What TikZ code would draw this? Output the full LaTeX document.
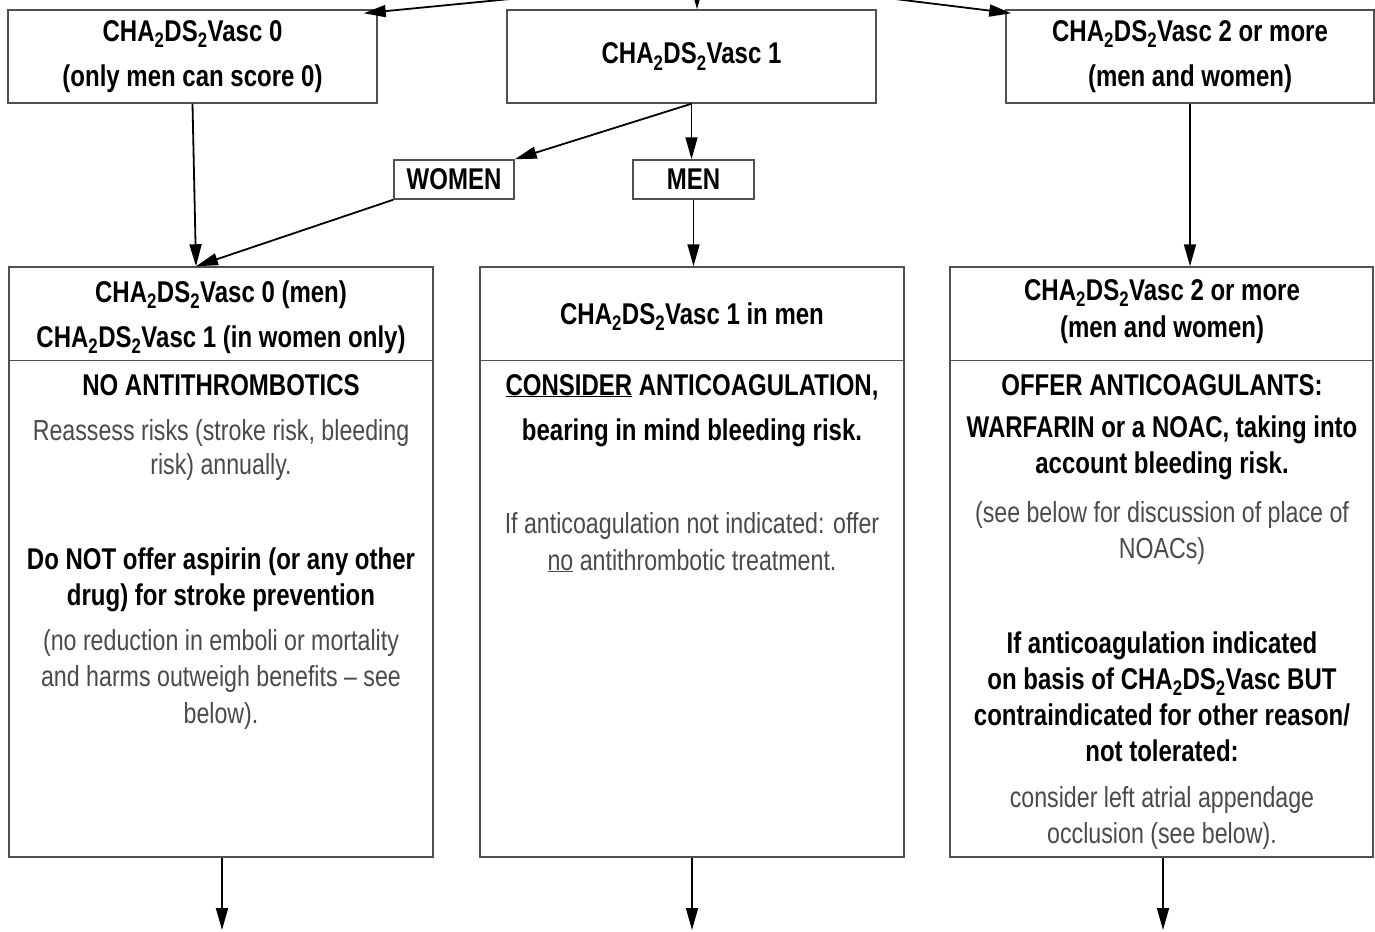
\documentclass[tikz,border=0pt]{standalone}
\usepackage{fontspec}
\setmainfont{Liberation Sans}[FakeStretch=0.8]
\usetikzlibrary{arrows.meta,calc}
\definecolor{boxline}{HTML}{505050}
\definecolor{lighttext}{HTML}{4A4A4A}
\newcommand{\chads}{CHA\textsubscript{2}DS\textsubscript{2}Vasc}
\begin{document}
\begin{tikzpicture}[x=1pt,y=-1pt,
  box/.style={draw=boxline, line width=1.5pt, inner sep=0pt},
  topbox/.style={box, minimum width=369pt, minimum height=93pt, align=center,
     font=\fontsize{30}{45}\selectfont\bfseries},
  tagbox/.style={box, minimum width=120pt, minimum height=39pt,
     font=\fontsize{30}{32}\selectfont\bfseries},
  bigbox/.style={box, minimum width=424pt, minimum height=590pt},
  hd/.style={font=\fontsize{30}{#1}\selectfont\bfseries, inner sep=0pt, align=center, anchor=base},
  hd/.default=36,
  lt/.style={font=\fontsize{29}{#1}\selectfont, text=lighttext, inner sep=0pt, align=center, anchor=base},
  lt/.default=36,
  arr/.style={line width=1.8pt, -{Triangle[length=22pt,width=12pt]}},
]
\useasboundingbox (0,0) rectangle (1375,931);

% top row
\node[topbox] (tl) at (192.5,56.5) {\chads\ 0\\(only men can score 0)};
\node[topbox] (tm) at (691.5,56.5) {\chads\ 1};
\node[topbox, minimum width=368pt] (tr) at (1190,56.5) {\chads\ 2 or more\\(men and women)};

% sex tags
\node[tagbox] (women) at (454,179.5) {WOMEN};
\node[tagbox, minimum width=121pt] (men) at (693.5,179.5) {MEN};

% big boxes
\node[bigbox] (bl) at (221,562) {};
\node[bigbox] (bm) at (692,562) {};
\node[bigbox, minimum width=423pt] (br) at (1161.5,562) {};
\draw[box] ($(bl.north west)+(0,94)$) -- ($(bl.north east)+(0,94)$);
\draw[box] ($(bm.north west)+(0,94)$) -- ($(bm.north east)+(0,94)$);
\draw[box] ($(br.north west)+(0,94)$) -- ($(br.north east)+(0,94)$);

% left box text (anchor = baseline of last line)
\node[hd=45] (blh) at (221,347) {\chads\ 0 (men)\\\chads\ 1 (in women only)};
\node[hd] (bl1) at (221,395) {NO ANTITHROMBOTICS};
\node[lt=34] (bl2) at (221,474) {Reassess risks (stroke risk, bleeding\\risk) annually.};
\node[hd] (bl3) at (221,605) {Do NOT offer aspirin (or any other\\drug) for stroke prevention};
\node[lt=36.5] (bl4) at (221,723) {(no reduction in emboli or mortality\\and harms outweigh benefits – see\\below).};

% middle box text
\node[hd] (bmh) at (692,324) {\chads\ 1 in men};
\node[hd=45] (bm1) at (692,440) {\underline{CONSIDER} ANTICOAGULATION,\\bearing in mind bleeding risk.};
\node[lt=37] (bm2) at (692,570) {If anticoagulation not indicated: offer\\\underline{no} antithrombotic treatment.};

% right box text
\node[hd=37] (brh) at (1162,337) {\chads\ 2 or more\\(men and women)};
\node[hd] (br1) at (1162,395) {OFFER ANTICOAGULANTS:};
\node[hd] (br2) at (1162,473) {WARFARIN or a NOAC, taking into\\account bleeding risk.};
\node[lt] (br3) at (1162,558) {(see below for discussion of place of\\NOACs)};
\node[hd] (br4) at (1162,761) {If anticoagulation indicated\\on basis of \chads\ BUT\\contraindicated for other reason/\\not tolerated:};
\node[lt] (br5) at (1162,843) {consider left atrial appendage\\occlusion (see below).};

% incoming arrows from above
\coordinate (inL) at (510,-1);
\coordinate (inM) at (697,-12);
\coordinate (inR) at (895,-1);
\draw[arr] (inL) -- ($(tl.north east)+(-14,4)$);
\draw[arr] (inM) -- (inM |- tm.north);
\draw[arr] (inR) -- ($(tr.north west)+(6,4)$);

% middle connectors
\coordinate (blin) at ($(bl.north)+(-25,0)$);
\draw[arr] (tl.south) -- (blin);
\draw[arr] (women.south west) -- (blin);
\draw[arr] (tm.south) -- (women.north east);
\draw[arr] (tm.south) -- (tm.south |- men.north);
\draw[arr] (men.south) -- (men.south |- bm.north);
\draw[arr] (tr.south) -- (tr.south |- br.north);

% outgoing arrows
\coordinate (outL) at (222,930);
\coordinate (outM) at (692,930);
\coordinate (outR) at (1163,930);
\draw[arr] (bl.south -| outL) -- (outL);
\draw[arr] (bm.south) -- (outM);
\draw[arr] (br.south -| outR) -- (outR);
\end{tikzpicture}
\end{document}
